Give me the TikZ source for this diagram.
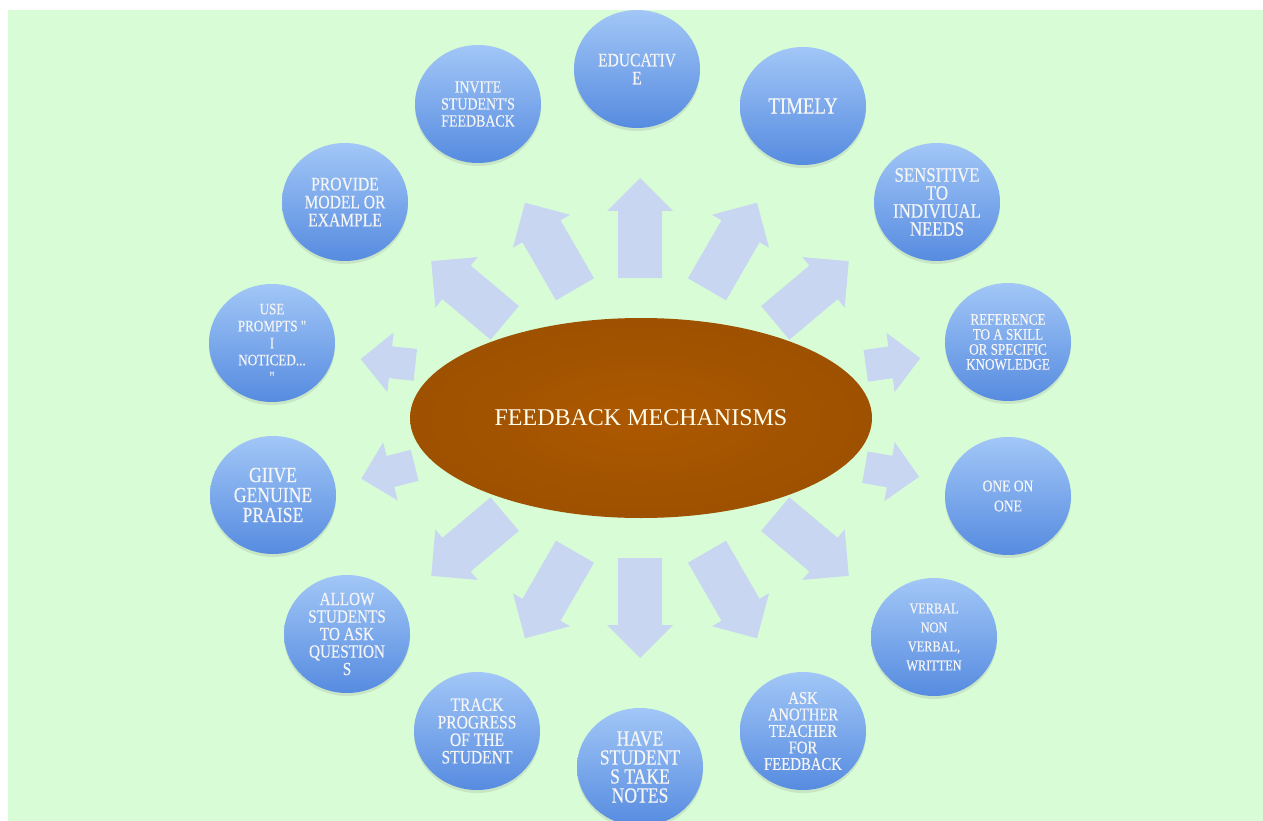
\documentclass[tikz,border=0pt]{standalone}
\usepackage{fontspec}
\setmainfont{Liberation Serif}
\newfontfamily\bubfont[FakeStretch=0.82,FakeBold=0.4]{Liberation Serif}
\usetikzlibrary{shapes.geometric,shadows}
\definecolor{bggreen}{RGB}{216,253,214}
\definecolor{bubtop}{RGB}{162,199,247}
\definecolor{bubbot}{RGB}{86,139,224}
\definecolor{hubbrown}{RGB}{168,86,0}
\definecolor{arrowblue}{RGB}{200,214,242}

\begin{document}
\begin{tikzpicture}[x=1pt,y=-1pt,
  bub/.style={ellipse,minimum width=126pt,minimum height=118pt,inner sep=0pt,
    top color=bubtop,bottom color=bubbot,text=white!96!black,align=center,
    drop shadow={opacity=.18,shadow xshift=0pt,shadow yshift=-3pt},
    font=\bubfont\fontsize{18}{17}\selectfont},
  hub/.style={ellipse,minimum width=462pt,minimum height=200pt,inner sep=0pt,
    inner color=hubbrown!95!orange,outer color=hubbrown!94!black,text=white!93!yellow,
    font=\fontsize{24}{26}\selectfont}]
  \useasboundingbox (0,0) rectangle (1263,821);
  \fill[bggreen] (8,10) rectangle (1263,821);

  % arrows: x/y/angle/length/half body/half head
  \foreach \cx/\cy/\ang/\len/\bw/\hw in {640/228/90/100/22/33, 550/246/120/100/22/33,
      732/246/60/100/22/33, 468/292/140/96/22/33, 812/292/40/96/22/33,
      388/362/174/55/16/30, 388/472/194/55/16/30, 893/362/8/55/16/30, 892/472/-10/55/16/30,
      468/545/220/96/22/33, 812/545/320/96/22/33, 550/595/240/100/22/33,
      732/595/300/100/22/33, 640/608/270/100/22/33}
    \fill[arrowblue,shift={(\cx,\cy)},rotate=\ang]
      ({-\len/2},-\bw) -- ({\len/2-\hw},-\bw) -- ({\len/2-\hw},-\hw) -- ({\len/2},0)
      -- ({\len/2-\hw},\hw) -- ({\len/2-\hw},\bw) -- ({-\len/2},\bw) -- cycle;

  \node[hub] (hub) at (641,418) {FEEDBACK MECHANISMS};

  \node[bub,font=\bubfont\fontsize{19}{18}\selectfont] (educ) at (637,69) {EDUCATIV\\E};
  \node[bub,font=\bubfont\fontsize{23}{20}\selectfont] (timely) at (803,106) {TIMELY};
  \node[bub,font=\bubfont\fontsize{17}{17}\selectfont] (invite) at (478,104) {INVITE\\STUDENT'S\\FEEDBACK};
  \node[bub,font=\bubfont\fontsize{19}{18}\selectfont] (provide) at (345,202) {PROVIDE\\MODEL OR\\EXAMPLE};
  \node[bub,font=\bubfont\fontsize{20.5}{18}\selectfont] (sensitive) at (937,202) {SENSITIVE\\TO\\INDIVIUAL\\NEEDS};
  \node[bub,font=\bubfont\fontsize{16}{17}\selectfont] (prompts) at (272,343) {USE\\PROMPTS "\\I\\NOTICED...\\"};
  \node[bub,font=\bubfont\fontsize{16}{15}\selectfont] (reference) at (1008,342) {REFERENCE\\TO A SKILL\\OR SPECIFIC\\KNOWLEDGE};
  \node[bub,font=\bubfont\fontsize{21.5}{20}\selectfont] (praise) at (273,495) {GIIVE\\GENUINE\\PRAISE};
  \node[bub,font=\bubfont\fontsize{16.5}{20}\selectfont] (oneone) at (1008,496) {ONE ON\\ONE};
  \node[bub,font=\bubfont\fontsize{18.5}{17.5}\selectfont] (allow) at (347,634) {ALLOW\\STUDENTS\\TO ASK\\QUESTION\\S};
  \node[bub,font=\bubfont\fontsize{15}{19}\selectfont] (verbal) at (934,637) {VERBAL\\NON\\VERBAL,\\WRITTEN};
  \node[bub,font=\bubfont\fontsize{19}{17.5}\selectfont] (track) at (477,731) {TRACK\\PROGRESS\\OF THE\\STUDENT};
  \node[bub,font=\bubfont\fontsize{18}{16.5}\selectfont] (askteacher) at (803,731) {ASK\\ANOTHER\\TEACHER\\FOR\\FEEDBACK};
  \node[bub,font=\bubfont\fontsize{21.5}{19}\selectfont] (notes) at (640,767) {HAVE\\STUDENT\\S TAKE\\NOTES};
\end{tikzpicture}
\end{document}
